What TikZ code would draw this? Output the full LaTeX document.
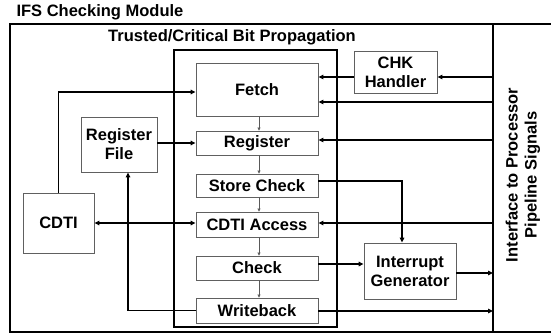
\documentclass[tikz,border=0pt]{standalone}
\usepackage{fontspec}
\setmainfont{Liberation Sans}
\usetikzlibrary{arrows.meta}

\tikzset{
    lbl/.style={font=\bfseries\fontsize{16.5}{19}\selectfont},
    blk/.style={lbl, draw=gray!75!black, line width=0.8pt, inner sep=0pt, align=center},
    arr/.style={line width=1.3pt, ->, >={Triangle[length=5pt,width=4.5pt]}},
    tip/.style={draw=gray!70!black, line width=0.6pt, ->, >={Triangle[length=3pt,width=3pt]}}
}

\begin{document}
\begin{tikzpicture}[x=1pt,y=-1pt]
    \useasboundingbox (0,0) rectangle (551,334);
    % frames
    \draw[line width=1.5pt] (552,24) -- (10,24) -- (10,332) -- (552,332);
    \draw[line width=1.2pt] (493,24) -- (493,332);
    \draw[line width=1.2pt] (174,50) rectangle (337,327);
    \node[lbl, anchor=west] (title) at (13,12) {IFS Checking Module};
    \node[lbl] (tbp) at (232,37) {Trusted/Critical Bit Propagation};
    \node[lbl, rotate=90, align=center] (intf) at (523,175) {Interface to Processor\\Pipeline Signals};

    % pipeline stages
    \foreach \n/\t/\y/\h in {fetch/Fetch/89.5/53, reg/Register/143/24, stchk/Store Check/185.5/23,
                             cdtia/CDTI Access/224.5/25, check/Check/268/24, wb/Writeback/310.5/25}{
        \node[blk, minimum width=122pt, minimum height=\h pt] (\n) at (257,\y) {\t};
    }
    \foreach \a/\b in {fetch/reg, reg/stchk, stchk/cdtia, cdtia/check, check/wb}{
        \draw[tip] ([xshift=2pt]\a.south) -- ([xshift=2pt]\b.north);
    }

    \node[blk, minimum width=76pt, minimum height=55pt] (rf) at (119,144.5) {Register\\File};
    \node[blk, minimum width=71pt, minimum height=60pt] (cdti) at (58.5,223) {CDTI};
    \node[blk, minimum width=83pt, minimum height=42pt] (chk) at (395.5,72) {CHK\\Handler};
    \node[blk, minimum width=92pt, minimum height=56pt] (intr) at (410,271) {Interrupt\\Generator};

    % interface taps
    \coordinate (p1) at (493,77);
    \coordinate (p2) at (493,102);
    \coordinate (p3) at (493,140);
    \coordinate (p4) at (493,223);
    \coordinate (p5) at (493,273);
    \coordinate (p6) at (493,311);

    \draw[arr] (p1) -- (p1 -| chk.east);
    \draw[arr] (chk.west |- p1) -- (p1 -| fetch.east);
    \draw[arr] (p2) -- (p2 -| fetch.east);
    \draw[arr] (p3) -- (p3 -| reg.east);
    \draw[arr] (p4) -- (p4 -| cdtia.east);
    \draw[arr] (intr.east |- p5) -- (p5);
    \draw[arr] (wb.east |- p6) -- (p6);

    \draw[arr] (cdti.north) |- ([yshift=-2.5pt]fetch.west);
    \draw[arr] (rf.east |- reg.west) -- (reg.west);
    \draw[arr, <->] (cdti.east) -- (cdti.east -| cdtia.west);
    \draw[arr] (wb.west) -| ([xshift=9pt]rf.south);
    \draw[arr] ([yshift=4.5pt]stchk.east) -| ([xshift=-8pt]intr.north);
    \draw[arr] ([yshift=4pt]check.east) -- ([yshift=4pt]check.east -| intr.west);
\end{tikzpicture}
\end{document}
